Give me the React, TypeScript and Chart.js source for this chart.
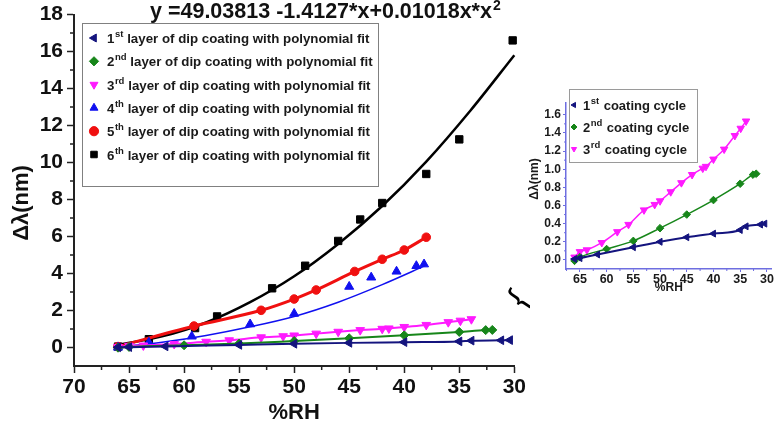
import React, { useEffect, useRef } from 'react';
import { Chart, registerables } from 'chart.js';
import { drawPoint } from 'chart.js/helpers';

Chart.register(...registerables);

const FONT = '"Liberation Sans", Arial, Helvetica, sans-serif';

// ---------------- data (x = %RH, y = Δλ in nm) ----------------
// 1st layer / 1st coating cycle
const rh1 = [66, 65, 61.7, 55, 50, 45, 40, 35, 33.9, 31.2, 30.4];
const d1 = [0.01, 0.02, 0.06, 0.14, 0.2, 0.25, 0.29, 0.33, 0.37, 0.39, 0.4];
// 2nd layer
const rh2 = [66, 65, 60, 55, 50, 45, 40, 35, 32.6, 32];
const d2 = [-0.01, 0.03, 0.12, 0.21, 0.35, 0.5, 0.66, 0.84, 0.94, 0.95];
// 3rd layer
const rh3 = [66, 65, 63.7, 60.9, 58, 55.9, 53, 51, 50, 48, 46, 44, 42, 41.4, 40, 38, 36, 34.9, 33.9];
const d3 = [0.03, 0.09, 0.11, 0.19, 0.31, 0.39, 0.55, 0.61, 0.65, 0.75, 0.85, 0.94, 1.01, 1.03, 1.11, 1.22, 1.37, 1.45, 1.53];
// 4th layer (points + fit)
const rh4 = [66, 63.2, 59.3, 54, 50, 45, 43, 40.7, 38.9, 38.2];
const d4 = [0, 0.27, 0.6, 1.26, 1.83, 3.29, 3.79, 4.11, 4.41, 4.5];
const rh4Fit = [66, 62, 58, 54, 50, 46, 42, 38];
const d4Fit = [0.02, 0.28, 0.65, 1.12, 1.68, 2.45, 3.4, 4.45];
// 5th layer
const rh5 = [66, 59.1, 53, 50, 48, 44.5, 42, 40, 38];
const d5 = [0.05, 1.16, 2.01, 2.62, 3.11, 4.11, 4.77, 5.27, 5.96];
// 6th layer (points + fit)
const rh6 = [66, 63.2, 59, 57, 52, 49, 46, 44, 42, 38, 35, 30.15];
const d6 = [0.05, 0.45, 1.05, 1.68, 3.2, 4.42, 5.76, 6.92, 7.81, 9.38, 11.25, 16.6];
const rh6Fit = [66, 62, 58, 54, 50, 46, 42, 38, 34, 30];
const d6Fit = [0.15, 0.6, 1.35, 2.45, 3.85, 5.6, 7.65, 10.05, 12.8, 15.8];

// legend labels
const layerNums = ['1', '2', '3', '4', '5', '6'];
const layerSups = ['st', 'nd', 'rd', 'th', 'th', 'th'];
const layerText = 'layer of dip coating with polynomial fit';
const cycleNums = ['1', '2', '3'];
const cycleSups = ['st', 'nd', 'rd'];
const cycleText = 'coating cycle';
const equationText = 'y =49.03813 -1.4127*x+0.01018x*x';
const equationSup = '2';

// minor tick values
const mainXMinor = [32.5, 37.5, 42.5, 47.5, 52.5, 57.5, 62.5, 67.5];
const mainYMinor = [1, 3, 5, 7, 9, 11, 13, 15, 17];
const insetXMinor = [32.5, 37.5, 42.5, 47.5, 52.5, 57.5, 62.5, 67.5];
const insetYMinor = [0.1, 0.3, 0.5, 0.7, 0.9, 1.1, 1.3, 1.5];

// ---------------- styles ----------------
const NAVY = '#14147e';
const GREEN = '#17861a';
const MAGENTA = '#ff1aff';
const BLUE = '#1010f0';
const RED = '#f01010';
const BLACK = '#000000';
const AXIS = '#222222';
const INSET_AXIS = '#6e6ee0';

const xy = (xs: number[], ys: number[]) => xs.map((x, i) => ({ x, y: ys[i] }));

type Marker = { color: string; style: string; rotation: number };
const markers: Marker[] = [
  { color: NAVY, style: 'triangle', rotation: -90 },
  { color: GREEN, style: 'rectRot', rotation: 0 },
  { color: MAGENTA, style: 'triangle', rotation: 180 },
  { color: BLUE, style: 'triangle', rotation: 0 },
  { color: RED, style: 'circle', rotation: 0 },
  { color: BLACK, style: 'rect', rotation: 0 },
];

function supText(ctx: CanvasRenderingContext2D, x: number, y: number, num: string, sup: string, rest: string, size: number, supSize: number, gap: number) {
  ctx.textAlign = 'left';
  ctx.textBaseline = 'alphabetic';
  ctx.font = `bold ${size}px ${FONT}`;
  ctx.fillText(num, x, y);
  x += ctx.measureText(num).width + 0.5;
  ctx.font = `bold ${supSize}px ${FONT}`;
  ctx.fillText(sup, x, y - size * 0.45);
  x += ctx.measureText(sup).width + gap;
  ctx.font = `bold ${size}px ${FONT}`;
  ctx.fillText(rest, x, y);
}

function minorTicks(chart: any, xv: number[], yv: number[], color: string, len: number, width: number) {
  const { ctx, chartArea, scales } = chart;
  ctx.save();
  ctx.strokeStyle = color;
  ctx.lineWidth = width;
  ctx.beginPath();
  yv.forEach((v) => {
    const p = scales.y.getPixelForValue(v);
    ctx.moveTo(chartArea.left, p);
    ctx.lineTo(chartArea.left - len, p);
  });
  xv.forEach((v) => {
    const p = scales.x.getPixelForValue(v);
    ctx.moveTo(p, chartArea.bottom);
    ctx.lineTo(p, chartArea.bottom + len);
  });
  ctx.stroke();
  ctx.restore();
}

const mainPlugin = {
  id: 'mainDecor',
  afterDraw(chart: any) {
    const ctx: CanvasRenderingContext2D = chart.ctx;
    minorTicks(chart, mainXMinor, mainYMinor, AXIS, 4, 1.5);
    ctx.save();
    // legend box
    ctx.fillStyle = '#ffffff';
    ctx.fillRect(82, 23, 296, 163);
    ctx.strokeStyle = '#808080';
    ctx.lineWidth = 1;
    ctx.strokeRect(82.5, 23.5, 296, 163);
    for (let i = 0; i < 6; i++) {
      const cy = 38 + i * 23.3;
      const m = markers[i];
      ctx.fillStyle = m.color;
      ctx.strokeStyle = m.color;
      ctx.lineWidth = 1;
      drawPoint(ctx, { pointStyle: m.style as any, rotation: m.rotation, radius: 4.6, borderWidth: 1 }, 94, cy);
      ctx.fillStyle = '#1a1a1a';
      supText(ctx, 107, cy + 5, layerNums[i], layerSups[i], layerText, 13.3, 9.5, 3.8);
    }
    // equation
    ctx.fillStyle = '#111111';
    ctx.textAlign = 'left';
    ctx.textBaseline = 'alphabetic';
    ctx.font = `bold 21.5px ${FONT}`;
    ctx.fillText(equationText, 150, 18);
    const ew = ctx.measureText(equationText).width;
    ctx.font = `bold 14px ${FONT}`;
    ctx.fillText(equationSup, 150 + ew + 1, 10);
    // y axis title
    ctx.save();
    ctx.translate(22, 203);
    ctx.rotate(-Math.PI / 2);
    ctx.textAlign = 'center';
    ctx.textBaseline = 'middle';
    ctx.font = `bold 22px ${FONT}`;
    ctx.fillText('Δλ(nm)', 0, 0);
    ctx.restore();
    // brace pointing to the inset
    ctx.save();
    ctx.translate(520, 300);
    ctx.rotate((-55 * Math.PI) / 180);
    ctx.font = `34px ${FONT}`;
    ctx.textAlign = 'center';
    ctx.textBaseline = 'middle';
    ctx.fillStyle = '#000';
    ctx.fillText('{', 0, 0);
    ctx.restore();
    ctx.restore();
  },
};

const insetPlugin = {
  id: 'insetDecor',
  afterDraw(chart: any) {
    const ctx: CanvasRenderingContext2D = chart.ctx;
    minorTicks(chart, insetXMinor, insetYMinor, INSET_AXIS, 2, 1);
    ctx.save();
    ctx.fillStyle = '#ffffff';
    ctx.fillRect(44, 1, 128, 73);
    ctx.strokeStyle = '#9a9a9a';
    ctx.lineWidth = 1;
    ctx.strokeRect(44.5, 1.5, 128, 73);
    for (let i = 0; i < 3; i++) {
      const cy = 17 + i * 22;
      const m = markers[i];
      ctx.fillStyle = m.color;
      ctx.strokeStyle = m.color;
      drawPoint(ctx, { pointStyle: m.style as any, rotation: m.rotation, radius: 3, borderWidth: 1 }, 49, cy);
      ctx.fillStyle = '#1a1a1a';
      supText(ctx, 58, cy + 5, cycleNums[i], cycleSups[i], cycleText, 13, 9.5, 4.5);
    }
    ctx.save();
    ctx.translate(10, 91);
    ctx.rotate(-Math.PI / 2);
    ctx.textAlign = 'center';
    ctx.textBaseline = 'middle';
    ctx.font = `bold 12px ${FONT}`;
    ctx.fillStyle = '#1a1a1a';
    ctx.fillText('Δλ(nm)', 0, 0);
    ctx.restore();
    ctx.restore();
  },
};

function pointSet(label: string, xs: number[], ys: number[], m: Marker, r: number, lineW: number, showLine: boolean) {
  return {
    label,
    data: xy(xs, ys),
    showLine,
    borderColor: m.color,
    backgroundColor: m.color,
    borderWidth: lineW,
    pointStyle: m.style,
    rotation: m.rotation,
    pointRadius: r,
    pointBorderWidth: 1,
    pointBackgroundColor: m.color,
    pointBorderColor: m.color,
    cubicInterpolationMode: 'monotone',
    clip: false,
  };
}

function fitSet(label: string, xs: number[], ys: number[], color: string, w: number) {
  return {
    label,
    data: xy(xs, ys),
    showLine: true,
    borderColor: color,
    backgroundColor: color,
    borderWidth: w,
    pointRadius: 0,
    cubicInterpolationMode: 'monotone',
    clip: false,
  };
}

function axisFont(size: number) {
  return { size, weight: 'bold' as const, family: FONT, lineHeight: 1 };
}

function makeMainConfig(): any {
  return {
    type: 'scatter',
    data: {
      datasets: [
        pointSet('1st', rh1, d1, markers[0], 5, 2, true),
        pointSet('2nd', rh2, d2, markers[1], 4.5, 2, true),
        pointSet('3rd', rh3, d3, markers[2], 5, 2, true),
        pointSet('4th', rh4, d4, markers[3], 5.2, 0, false),
        fitSet('4th fit', rh4Fit, d4Fit, BLUE, 1.5),
        pointSet('5th', rh5, d5, markers[4], 4.3, 3, true),
        pointSet('6th', rh6, d6, markers[5], 5.2, 0, false),
        fitSet('6th fit', rh6Fit, d6Fit, BLACK, 2.5),
      ],
    },
    options: {
      responsive: false,
      animation: false,
      events: [],
      layout: { padding: { left: 0, right: 15, top: 11, bottom: 0 } },
      plugins: { legend: { display: false }, tooltip: { enabled: false }, title: { display: false } },
      scales: {
        x: {
          type: 'linear',
          min: 30,
          max: 70,
          reverse: true,
          ticks: { stepSize: 5, includeBounds: false, font: axisFont(21), color: '#111', padding: 4, maxRotation: 0 },
          grid: { drawOnChartArea: false, tickLength: 7, tickWidth: 1.5, tickColor: AXIS },
          border: { color: AXIS, width: 2 },
          title: { display: true, text: '%RH', color: '#111', font: { size: 22, weight: 'bold', family: FONT, lineHeight: 1.2 }, padding: { top: 0, bottom: 6 } },
          afterFit: (s: any) => { s.height = 66; },
        },
        y: {
          type: 'linear',
          min: -1,
          max: 18,
          ticks: { stepSize: 2, includeBounds: false, font: axisFont(21), color: '#111', padding: 4 },
          grid: { drawOnChartArea: false, tickLength: 7, tickWidth: 1.5, tickColor: AXIS },
          border: { color: AXIS, width: 2 },
          afterFit: (s: any) => { s.width = 74; },
        },
      },
    },
    plugins: [mainPlugin],
  };
}

function makeInsetConfig(): any {
  return {
    type: 'scatter',
    data: {
      datasets: [
        pointSet('1st coating cycle', rh1, d1, markers[0], 4, 2, true),
        pointSet('2nd coating cycle', rh2, d2, markers[1], 3.8, 1.5, true),
        pointSet('3rd coating cycle', rh3, d3, markers[2], 4.3, 1.5, true),
      ],
    },
    options: {
      responsive: false,
      animation: false,
      events: [],
      layout: { padding: { left: 0, right: 2, top: 15, bottom: 0 } },
      plugins: { legend: { display: false }, tooltip: { enabled: false }, title: { display: false } },
      scales: {
        x: {
          type: 'linear',
          min: 29.1,
          max: 67.6,
          reverse: true,
          ticks: { stepSize: 5, includeBounds: false, font: axisFont(12.5), color: '#1a1a1a', padding: 1, maxRotation: 0 },
          grid: { drawOnChartArea: false, tickLength: 3, tickWidth: 1, tickColor: INSET_AXIS },
          border: { color: INSET_AXIS, width: 1.5 },
          title: { display: true, text: '%RH', color: '#1a1a1a', font: { size: 12, weight: 'bold', family: FONT, lineHeight: 1.2 }, padding: { top: 0, bottom: 5 } },
          afterFit: (s: any) => { s.height = 31; },
        },
        y: {
          type: 'linear',
          min: -0.1,
          max: 1.73,
          ticks: { stepSize: 0.2, includeBounds: false, font: axisFont(12), color: '#1a1a1a', padding: 2, callback: (v: any) => Number(v).toFixed(1) },
          grid: { drawOnChartArea: false, tickLength: 3, tickWidth: 1, tickColor: INSET_AXIS },
          border: { color: INSET_AXIS, width: 1.5 },
          afterFit: (s: any) => { s.width = 41; },
        },
      },
    },
    plugins: [insetPlugin],
  };
}

function ChartCanvas(props: { make: () => any; w: number; h: number; left: number; top: number }) {
  const ref = useRef<HTMLCanvasElement>(null);
  useEffect(() => {
    if (!ref.current) return;
    const chart = new Chart(ref.current, props.make());
    return () => chart.destroy();
  }, []);
  return (
    <canvas
      ref={ref}
      width={props.w}
      height={props.h}
      style={{ position: 'absolute', left: props.left, top: props.top, width: props.w, height: props.h }}
    />
  );
}

export default function App() {
  return (
    <div style={{ position: 'fixed', left: 0, top: 0, width: 777, height: 432, background: '#ffffff', overflow: 'hidden' }}>
      <ChartCanvas make={makeMainConfig} w={530} h={432} left={0} top={0} />
      <ChartCanvas make={makeInsetConfig} w={252} h={212} left={525} top={88} />
    </div>
  );
}
